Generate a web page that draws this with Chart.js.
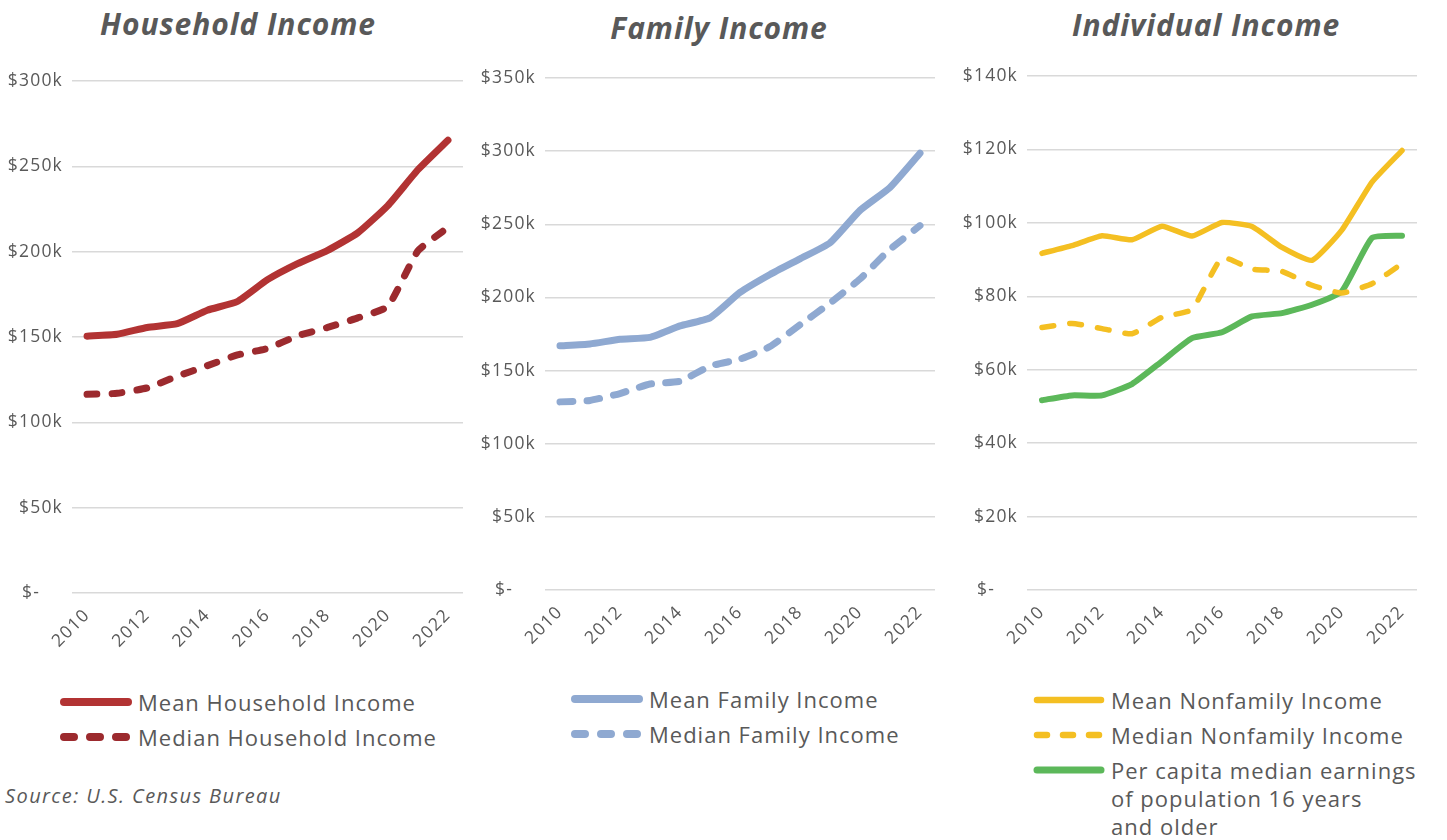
<!DOCTYPE html>
<html>
<head>
<meta charset="utf-8">
<script src="https://cdn.jsdelivr.net/npm/chart.js@4.4.1/dist/chart.umd.min.js"></script>
<style>
  body { margin: 0; background: #fff; width: 1447px; height: 840px; overflow: hidden;
         font-family: 'Open Sans', sans-serif; color: #595959; position: relative; }
  .box { position: absolute; top: 0; }
  .title { position: absolute; font-size: 30px; font-weight: bold; font-style: italic; letter-spacing: 0.9px;
           white-space: nowrap; transform: translate(-50%, -50%); line-height: 1; }
  .legend { position: absolute; font-size: 22px; letter-spacing: 1px; white-space: nowrap; }
  .item { display: flex; align-items: flex-start; margin-bottom: 7px; line-height: 28px; }
  .item svg { flex: none; margin-right: 4px; }
  .source { position: absolute; left: 5px; top: 782px; font-size: 20px; font-style: italic; letter-spacing: 1.4px; }
</style>
</head>
<body>

<div class="title" style="left:238px;top:24px">Household Income</div>
<div class="title" style="left:719px;top:28px">Family Income</div>
<div class="title" style="left:1206px;top:25px">Individual Income</div>

<div class="box" style="left:0px"><canvas id="household" width="470" height="670"></canvas></div>
<div class="box" style="left:473px"><canvas id="family" width="470" height="670"></canvas></div>
<div class="box" style="left:955px"><canvas id="individual" width="480" height="670"></canvas></div>

<div class="legend" id="legHousehold" style="left:58px;top:688px"></div>
<div class="legend" id="legFamily" style="left:569px;top:685px"></div>
<div class="legend" id="legIndividual" style="left:1031px;top:686px"></div>

<div class="source">Source: U.S. Census Bureau</div>

<script>
// Données (en dollars)
const years = ['2010', '2011', '2012', '2013', '2014', '2015', '2016', '2017', '2018', '2019', '2020', '2021', '2022'];

const meanHousehold   = [150500, 151600, 155600, 157800, 165700, 170800, 183600, 193000, 200800, 211000, 227000, 248000, 265300];
const medianHousehold = [116400, 117000, 120200, 127000, 133200, 139500, 143300, 150700, 155600, 161200, 167900, 200400, 214200];

const meanFamily   = [166900, 168200, 171400, 172700, 180500, 186000, 203400, 215700, 226400, 237300, 259500, 275200, 298600];
const medianFamily = [128600, 129600, 134300, 140800, 142700, 153100, 157800, 166400, 181300, 196100, 212600, 232900, 249100];

const meanNonfamily   = [91700, 93800, 96500, 95400, 99100, 96400, 100100, 99000, 93300, 89800, 98100, 111100, 119700];
const medianNonfamily = [71500, 72600, 71200, 69800, 74300, 76400, 90500, 87400, 86800, 83000, 80900, 83400, 88900];
const perCapitaEarnings = [51700, 53000, 53000, 56100, 62300, 68600, 70200, 74500, 75400, 77700, 81400, 95900, 96500];

const red = '#B23333', darkRed = '#9C2A2E', blue = '#8FA9D1', yellow = '#F4BF22', green = '#5CB85A';
const grey = '#595959';

function money(v) {
    if (v === 0) return '$-    ';
    return '$' + (v / 1000) + 'k';
}

// espacement des lettres pour imiter la police d'origine (plus large)
const spacing = {
    id: 'spacing',
    beforeLayout(chart) { chart.ctx.letterSpacing = '1.2px'; },
    beforeDraw(chart) { chart.ctx.letterSpacing = '1.2px'; }
};

function makeChart(id, datasets, yMax, yStep, top, bottomHeight, rightPad) {
    const ctx = document.getElementById(id).getContext('2d');
    return new Chart(ctx, {
        type: 'line',
        data: { labels: years, datasets: datasets },
        plugins: [spacing],
        options: {
            responsive: false,
            animation: false,
            layout: { padding: { top: top, right: rightPad, left: 0, bottom: 0 } },
            plugins: { legend: { display: false }, tooltip: { enabled: false } },
            elements: { point: { radius: 0 }, line: { tension: 0.15, borderJoinStyle: 'round', borderCapStyle: 'round' } },
            scales: {
                x: {
                    offset: true,
                    grid: { display: false },
                    border: { display: false },
                    afterFit: function(scale) { scale.height = bottomHeight; },
                    ticks: {
                        autoSkip: false, minRotation: 45, maxRotation: 45, padding: 4,
                        color: grey, font: { family: 'Open Sans', size: 17.5 },
                        callback: function(v, i) { return i % 2 === 0 ? this.getLabelForValue(v) : ''; }
                    }
                },
                y: {
                    min: 0, max: yMax,
                    grid: { color: '#D9D9D9', lineWidth: 1.5, drawTicks: false },
                    border: { display: false },
                    afterFit: function(scale) { scale.width = 72; },
                    ticks: {
                        stepSize: yStep, padding: 9,
                        color: grey, font: { family: 'Open Sans', size: 17.5 },
                        callback: money
                    }
                }
            }
        }
    });
}

const householdSets = [
    { label: 'Mean Household Income', data: meanHousehold, borderColor: red, borderWidth: 7, fill: false },
    { label: 'Median Household Income', data: medianHousehold, borderColor: darkRed, borderWidth: 7, borderDash: [10, 15], fill: false }
];
const familySets = [
    { label: 'Mean Family Income', data: meanFamily, borderColor: blue, borderWidth: 7, fill: false },
    { label: 'Median Family Income', data: medianFamily, borderColor: blue, borderWidth: 7, borderDash: [13, 14], fill: false }
];
const individualSets = [
    { label: 'Mean Nonfamily Income', data: meanNonfamily, borderColor: yellow, borderWidth: 5.5, fill: false },
    { label: 'Median Nonfamily Income', data: medianNonfamily, borderColor: yellow, borderWidth: 5.5, borderDash: [12, 16], fill: false },
    { label: ['Per capita median earnings', 'of population 16 years', 'and older'], data: perCapitaEarnings, borderColor: green, borderWidth: 6, fill: false }
];

makeChart('household', householdSets, 300000, 50000, 81, 77, 7);
makeChart('family', familySets, 350000, 50000, 78, 80, 8);
makeChart('individual', individualSets, 140000, 20000, 76, 80, 18);

// Légendes en HTML
function buildLegend(elId, sets) {
    const el = document.getElementById(elId);
    sets.forEach(ds => {
        const dash = ds.borderDash ? ' stroke-dasharray="10 16"' : '';
        const w = ds.borderWidth + 1;
        const text = Array.isArray(ds.label) ? ds.label.join('<br>') : ds.label;
        el.innerHTML += '<div class="item"><svg width="76" height="28"><line x1="6" y1="14" x2="70" y2="14" stroke="' +
            ds.borderColor + '" stroke-width="' + w + '" stroke-linecap="round"' + dash + '/></svg><span>' + text + '</span></div>';
    });
}
buildLegend('legHousehold', householdSets);
buildLegend('legFamily', familySets);
buildLegend('legIndividual', individualSets);
</script>
</body>
</html>
